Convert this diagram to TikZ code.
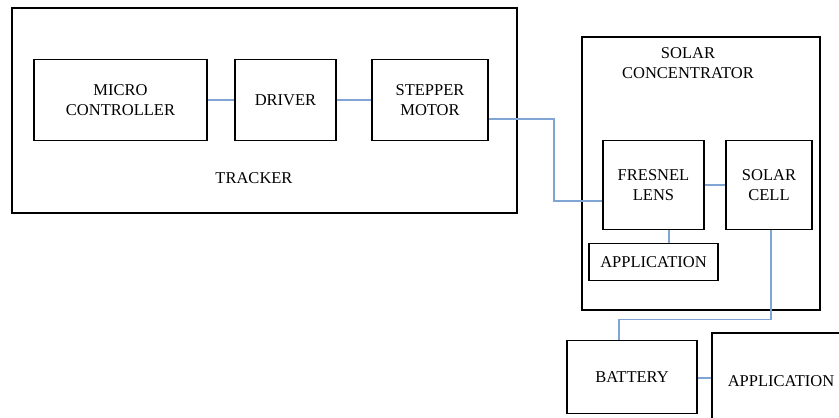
\documentclass[tikz,border=0pt]{standalone}
\usepackage{fontspec}
\setmainfont{Liberation Serif}
\usetikzlibrary{positioning}

\definecolor{wireblue}{RGB}{128,164,212}

\tikzset{
  block/.style={draw,line width=1.8pt,align=center,inner sep=0pt},
  frame/.style={draw,line width=1.8pt,inner sep=0pt},
  wire/.style={draw=wireblue,line width=1.3pt}
}

\begin{document}
\begin{tikzpicture}[x=1pt,y=-1pt,font=\fontsize{16.5}{20}\selectfont]

\useasboundingbox (0,0) rectangle (839,418);

% tracker part
\node[frame,minimum width=505pt,minimum height=205pt]   (trk)  at (264.5,110.5)  {};
\node[block,minimum width=173pt,minimum height=81pt]    (mc)   at (120.5,100)    {MICRO\\CONTROLLER};
\node[block,minimum width=101pt,minimum height=81pt]    (drv)  at (285.5,100)    {DRIVER};
\node[block,minimum width=116pt,minimum height=81pt]    (stp)  at (430,100)      {STEPPER\\MOTOR};
\node                                                   (trkl) at (254,178)      {TRACKER};

% concentrator part
\node[frame,minimum width=238pt,minimum height=273pt]   (conc) at (701,173.5)    {};
\node[align=center]                                     (concl) at (688,63)      {SOLAR\\CONCENTRATOR};
\node[block,minimum width=101pt,minimum height=89pt]    (lens) at (653.5,185)    {FRESNEL\\LENS};
\node[block,minimum width=86pt,minimum height=89pt]     (cell) at (769,185)      {SOLAR\\CELL};
\node[block,minimum width=129pt,minimum height=37pt]    (app1) at (653.5,262)    {APPLICATION};

% storage
\node[block,minimum width=130pt,minimum height=73pt]    (bat)  at (632,377)      {BATTERY};
\node[block,minimum width=138pt,minimum height=97pt]    (app2) at (781,381.5)    {APPLICATION};

	\path[wire] (mc)   -- (drv)
	            (drv)  -- (stp)
	            (lens) -- (cell);
	\path[wire] ([yshift=-19pt]stp.east) -- ++(65,0) |- ([yshift=-16pt]lens.west);
	\path[wire] ([xshift=15.5pt]lens.south) -- ([xshift=15.5pt]lens.south |- app1.north);
	\path[wire] ([xshift=2pt]cell.south) -- ++(0,89) -| ([xshift=-13pt]bat.north);
	\path[wire] ([yshift=-1pt]bat.east) -- ([yshift=-1pt]bat.east -| app2.west);
\end{tikzpicture}
\end{document}
